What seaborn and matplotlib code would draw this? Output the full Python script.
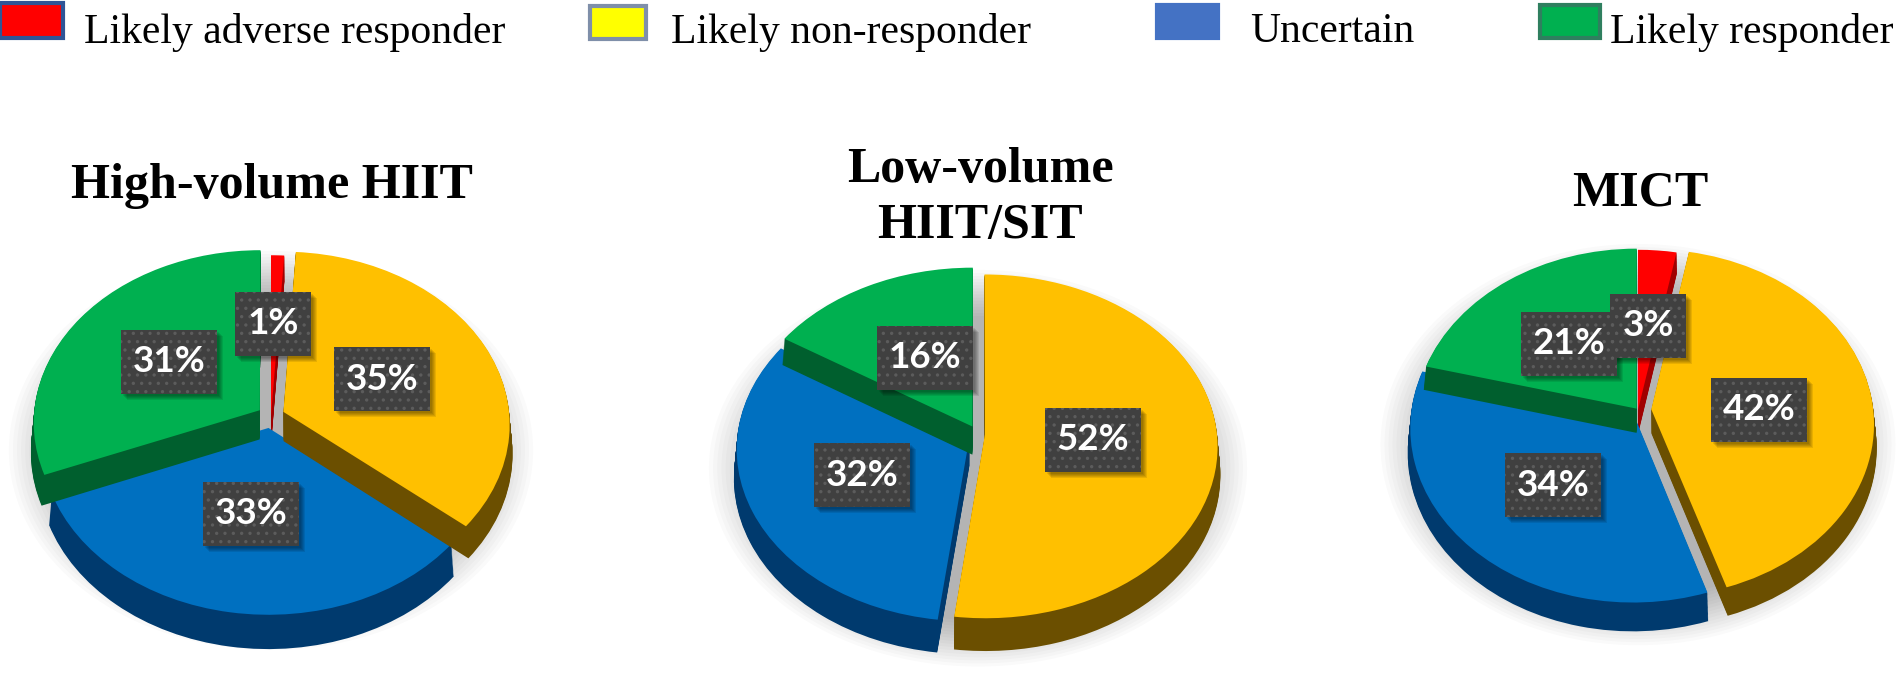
import matplotlib
matplotlib.use('Agg')
import matplotlib.pyplot as plt
import numpy as np
import seaborn as sns
from matplotlib.patches import Ellipse, Rectangle
from matplotlib.transforms import Transform

sns.set_theme(style='white')
plt.rcParams['font.family'] = ['Liberation Serif', 'DejaVu Sans']
plt.rcParams['hatch.linewidth'] = 1.2
plt.rcParams['hatch.color'] = '#5c5c5c'

categories = ['Likely adverse responder', 'Likely non-responder', 'Uncertain', 'Likely responder']
high_volume = [1, 35, 33, 31]
low_volume = [0, 52, 32, 16]
mict = [3, 42, 34, 21]
titles = ['High-volume HIIT', 'Low-volume\nHIIT/SIT', 'MICT']

top_colors = sns.color_palette(['#FF0000', '#FFC000', '#0070C0', '#00B050'])
side_colors = sns.color_palette(['#A00000', '#6B4F00', '#003A6E', '#005F2E'])
legend_colors = ['#FF0000', '#FFFF00', '#4472C4', '#00B050']
legend_edges = ['#2F5597', '#7F8FA9', '#4472C4', '#2F7F5F']

W, H = 1904, 680

# everything below is placement in reference pixels
charts = [
    dict(values=high_volume, cx=271, cy=416, rx=226, ry=172, tilt=0.07, depth=29,
         explode=[0.0, 0.06, 0.07, 0.06], order=[0, 3, 1, 2], title_xy=(272, 186), bottom=660,
         labels=[(273, 324), (382, 379), (251, 514), (169, 362)]),
    dict(values=low_volume, cx=978, cy=434, rx=232, ry=171, tilt=0.07, depth=28,
         explode=[0.0, 0.03, 0.04, 0.05], order=[0, 1, 2, 3], title_xy=(980, 198), bottom=672,
         labels=[None, (1093, 440), (862, 475), (925, 358)]),
    dict(values=mict, cx=1638, cy=410, rx=222, ry=173, tilt=0.08, depth=24,
         explode=[0.0, 0.06, 0.03, 0.01], order=[0, 3, 1, 2], title_xy=(1640, 188), bottom=676,
         labels=[(1648, 326), (1759, 410), (1553, 485), (1569, 344)]),
]
legend_swatch = [(0, 3, 63, 35), (590, 6, 56, 33), (1157, 5, 61, 33), (1540, 5, 60, 33)]
legend_text_x = [84, 671, 1250, 1610]


class Tilt(Transform):
    # front of the pie comes out bigger than the back, like the 3D pie in the original
    input_dims = output_dims = 2

    def __init__(self, b):
        super().__init__()
        self.b = b

    def transform_non_affine(self, values):
        values = np.asarray(values, dtype=float)
        return values / (1 + self.b * values[:, 1:2])


def draw_pie(fig, c):
    # own axes per pie so the unit circle gets squashed to rx / ry
    pad = 1.3
    left = c['cx'] - pad * c['rx']
    right = c['cx'] + pad * c['rx']
    top = c['cy'] - pad * c['ry']
    bottom = c['bottom']
    ax = fig.add_axes([left / W, 1 - bottom / H, (right - left) / W, (bottom - top) / H])
    step = 1 / c['ry']
    tilt = Tilt(c['tilt'])
    depth = c['depth']

    for k in list(range(depth, 0, -1)) + [0]:
        colors = top_colors if k == 0 else side_colors
        wedges, _ = ax.pie(c['values'], colors=colors, startangle=90, counterclock=False,
                           explode=c['explode'], center=(0, -k * step), radius=1,
                           wedgeprops=dict(linewidth=0))
        for i, w in enumerate(wedges):
            w.set_zorder(10 + c['order'][i] * 100 + depth - k)
            w.set_transform(tilt + ax.transData)

    # soft shadow under the pie
    for n in range(16):
        r = 1.16 - n * 0.018
        ax.add_patch(Ellipse((0, -0.2), 2 * r, 2 * r, fc='black', ec='none', alpha=0.02, zorder=1))

    ax.set_aspect('auto')
    ax.set_xlim(-pad, pad)
    ax.set_ylim(-(bottom - c['cy']) / c['ry'], pad)
    ax.axis('off')
    ax.patch.set_alpha(0)


def draw_label(ov, xy, text):
    w = 76 if len(text) == 2 else 96
    h = 64
    x, y = xy[0] - w / 2, xy[1] - h / 2
    for s in range(5):
        ov.add_patch(Rectangle((x + 2 + s, y + 2 + s), w, h, fc='black', ec='none', alpha=0.09, zorder=3))
    ov.add_patch(Rectangle((x, y), w, h, fc='#404040', ec='none', zorder=4))
    ov.add_patch(Rectangle((x, y), w, h, fc='none', ec='#5c5c5c', lw=0, hatch='..', zorder=5))
    ov.text(xy[0], xy[1], text, color='white', ha='center', va='center', fontsize=26.5,
            fontweight='bold', family=['Lato', 'DejaVu Sans'], zorder=6)


fig = plt.figure(figsize=(W / 100, H / 100), dpi=100, facecolor='white')

for c in charts:
    draw_pie(fig, c)

# overlay in pixel coordinates for legend, titles and value boxes
ov = fig.add_axes([0, 0, 1, 1], zorder=20)
ov.set_xlim(0, W)
ov.set_ylim(H, 0)
ov.axis('off')
ov.patch.set_alpha(0)

for name, col, edge, sw, tx in zip(categories, legend_colors, legend_edges, legend_swatch, legend_text_x):
    ov.add_patch(Rectangle(sw[:2], sw[2], sw[3], fc=col, ec=edge, lw=3))
    ov.text(tx, 32, name, fontsize=30, color='black', va='center', ha='left')

for c, title in zip(charts, titles):
    ty = c['title_xy'][1] + (5 if title == 'MICT' else 0)
    ov.text(c['title_xy'][0], ty, title, fontsize=36, fontweight='bold', color='black',
            ha='center', va='center', linespacing=1.27)
    for v, xy in zip(c['values'], c['labels']):
        if v > 0:
            draw_label(ov, xy, f'{v}%')

fig.savefig('out.png', dpi=100)
